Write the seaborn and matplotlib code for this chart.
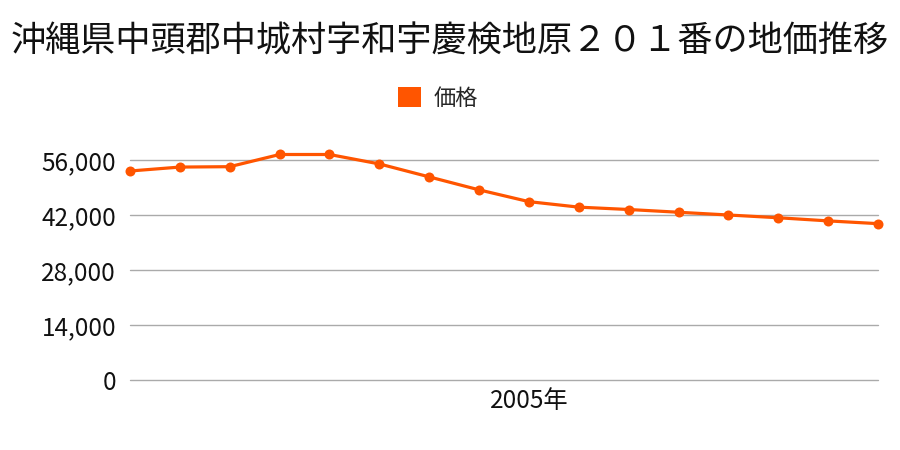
import matplotlib
matplotlib.use("Agg")
import matplotlib.pyplot as plt
import seaborn as sns
import pandas as pd
from matplotlib.patches import Patch

years = list(range(1997, 2013))
prices = [53200, 54200, 54300, 57400, 57400, 55000, 51700, 48400,
          45400, 44000, 43400, 42700, 42000, 41300, 40500, 39800]
yticks = [0, 14000, 28000, 42000, 56000]
xtick_years = [2005]
title = "沖縄県中頭郡中城村字和宇慶検地原２０１番の地価推移"
series_name = "価格"

sns.set_theme(style="white")
plt.rcParams['font.family'] = ['Noto Sans CJK JP', 'DejaVu Sans']

color = "#ff5500"
df = pd.DataFrame({"year": years, "price": prices})

fig = plt.figure(figsize=(9, 4.5), dpi=100)
ax = fig.add_axes([130/900, 1 - 380/450, (878-130)/900, (380-150)/450])

sns.lineplot(data=df, x="year", y="price", ax=ax, color=color, linewidth=2.3,
             marker="o", markersize=7.2, markeredgewidth=0, clip_on=False, zorder=3)

ax.set_xlim(years[0], years[-1])
ax.set_ylim(0, 56000 * 230 / 220)
ax.set_yticks(yticks)
ax.set_yticklabels([f"{v:,}" for v in yticks], fontsize=17.5, color="#111111")
ax.set_xticks(xtick_years)
ax.set_xticklabels([f"{y}年" for y in xtick_years], fontsize=17.5, color="#111111")
ax.tick_params(axis="y", length=0, pad=10)
ax.tick_params(axis="x", length=0, pad=6)
ax.set_xlabel("")
ax.set_ylabel("")
ax.grid(axis="y", color="#aaaaaa", linewidth=1)
ax.grid(axis="x", visible=False)
for gl in ax.get_ygridlines():
    gl.set_clip_on(False)
for s in ax.spines.values():
    s.set_visible(False)

fig.text(0.5, 1 - 42/450, title, ha="center", va="center", fontsize=25.3, color="#111111")
fig.legend(handles=[Patch(facecolor=color, edgecolor="none", label=series_name)],
           loc="center", bbox_to_anchor=(438/900, 1 - 98/450), frameon=False,
           fontsize=16, handlelength=1.04, handleheight=1.04, handletextpad=0.6)

fig.savefig("out.png", dpi=100)
